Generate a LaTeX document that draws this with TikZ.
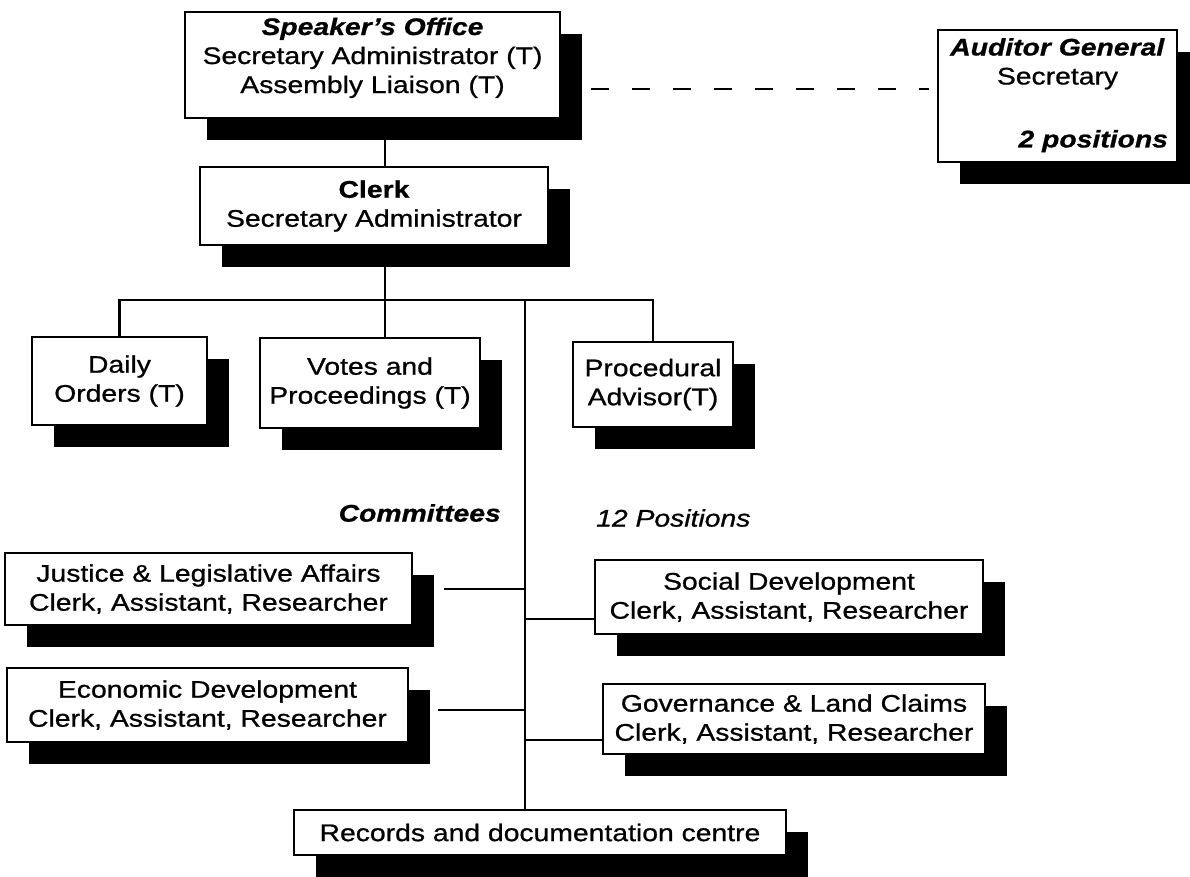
\documentclass[tikz,border=0pt]{standalone}
\usepackage{fontspec}
\setmainfont{Liberation Sans}[FakeStretch=1.18, FakeBold=0.8]
\usetikzlibrary{shadows,calc}

\begin{document}
\begin{tikzpicture}[x=1pt,y=-1pt,
  every node/.style={font=\fontsize{24}{29}\selectfont},
  box/.style={draw, line width=2.4pt, fill=white, inner sep=0pt, align=center,
    general shadow={fill=black, shadow xshift=22pt, shadow yshift=-22pt}},
  conn/.style={line width=2.2pt},
  dashconn/.style={line width=2pt, dash pattern=on 18pt off 23pt},
  txt/.style={align=center, inner sep=0pt},
  head/.style={font=\fontsize{24}{29}\selectfont\bfseries\itshape}]

\useasboundingbox (0,0) rectangle (1190,876);

% junction points of the connector tree
\coordinate (jc) at (385,300);
\coordinate (tr) at (525,300);

% top row
\node[box, minimum width=375, minimum height=106] (spk) at (372.5,65) {};
\node[txt] at ($(spk.north)+(0,47)$)
  {\textbf{\textit{Speaker's Office}}\\Secretary Administrator (T)\\Assembly Liaison (T)};

\node[box, minimum width=239, minimum height=132] (aud) at (1057.5,96) {};
\node[txt] at ($(aud.north)+(0,35)$) {\textbf{\textit{Auditor General}}\\Secretary};
\node[txt, anchor=east] at ($(aud.south east)+(-10,-22)$) {\textbf{\textit{2 positions}}};

\node[box, minimum width=348, minimum height=78] (clk) at (374,206)
  {\textbf{Clerk}\\Secretary Administrator};

% second row
\node[box, minimum width=175, minimum height=88] (day) at (119.5,381) {Daily\\Orders (T)};
\node[box, minimum width=220, minimum height=90] (vot) at (370,383) {Votes and\\Proceedings (T)};
\node[box, minimum width=160, minimum height=85] (pro) at (653,384.5) {Procedural\\Advisor(T)};

% committee labels
\node[txt, head, anchor=east] (com) at ($(tr)+(-24,213)$) {Committees};
\node[txt, anchor=west] (pos) at ($(tr)+(71,218)$) {\itshape 12 Positions};

% committees
\node[box, minimum width=407, minimum height=72] (jus) at (208.5,589)
  {Justice \& Legislative Affairs\\Clerk, Assistant, Researcher};
\node[box, minimum width=401, minimum height=74] (eco) at (207.5,705)
  {Economic Development\\Clerk, Assistant, Researcher};
\node[box, minimum width=388, minimum height=74] (soc) at (789,597)
  {Social Development\\Clerk, Assistant, Researcher};
\node[box, minimum width=382, minimum height=70] (gov) at (794,719)
  {Governance \& Land Claims\\Clerk, Assistant, Researcher};

\node[box, minimum width=492, minimum height=45] (rec) at (540,832.5)
  {Records and documentation centre};

% connectors
\draw[conn] (spk.south -| jc) -- (clk.north -| jc);
\draw[conn] (clk.south -| jc) -- (vot.north -| jc);
\draw[conn] (day.north) |- (pro.north |- jc) -- (pro.north);
\draw[conn] (tr) -- (rec.north -| tr);

\coordinate (jl) at ($(jus.east)+(31,0)$);
\draw[conn] (jl) -- (jl -| tr);
\coordinate (el) at ($(eco.east)+(29,5)$);
\draw[conn] (el) -- (el -| tr);
\coordinate (sl) at ($(soc.south west)+(0,-16)$);
\draw[conn] (sl -| tr) -- (sl);
\coordinate (gl) at ($(gov.south west)+(0,-15)$);
\draw[conn] (gl -| tr) -- (gl);

\coordinate (dl) at ($(spk.east)+(30,24)$);
\draw[dashconn] (dl) -- ($(dl -| aud.west)+(-8,0)$);
\end{tikzpicture}
\end{document}
